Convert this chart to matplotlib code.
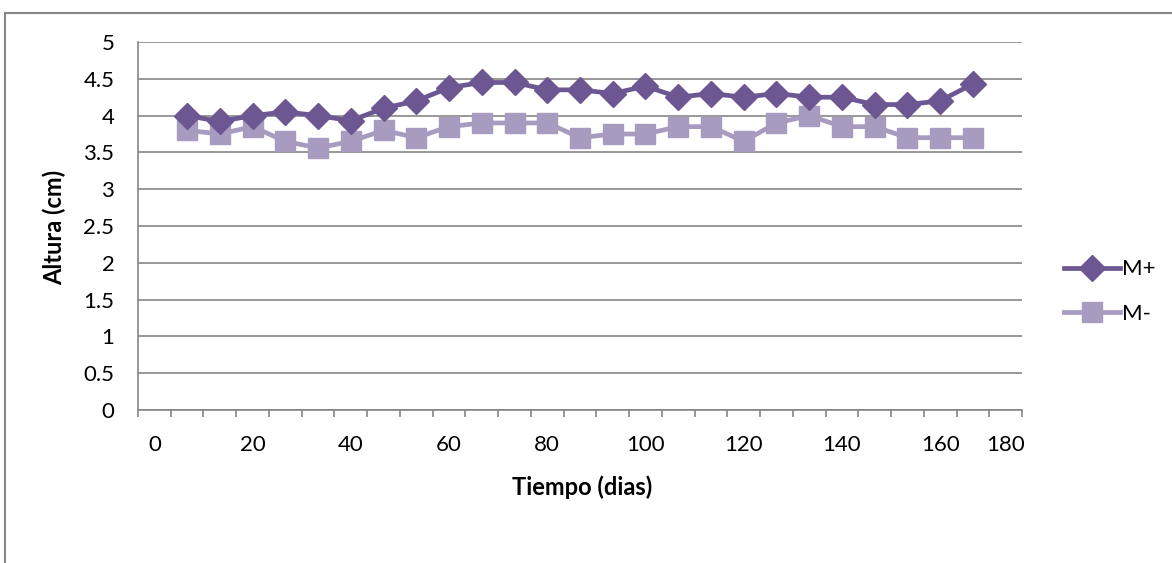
import numpy as np
import matplotlib.pyplot as plt
from matplotlib.lines import Line2D

# measurement days (one every week)
dias = [7, 14, 21, 28, 35, 42, 49, 56, 63, 70, 77, 84, 91,
        98, 105, 112, 119, 126, 133, 140, 147, 154, 161, 168, 175]
m_mas = [4.0, 3.92, 4.0, 4.05, 4.0, 3.93, 4.1, 4.2, 4.38, 4.45, 4.45, 4.35, 4.35,
         4.3, 4.4, 4.25, 4.3, 4.25, 4.3, 4.25, 4.25, 4.15, 4.15, 4.2, 4.43]
m_menos = [3.8, 3.75, 3.85, 3.65, 3.56, 3.65, 3.8, 3.7, 3.85, 3.9, 3.9, 3.9, 3.7,
           3.75, 3.75, 3.85, 3.85, 3.65, 3.9, 4.0, 3.85, 3.85, 3.7, 3.7, 3.7]
xlabels = ['0', '20', '40', '60', '80', '100', '120', '140', '160', '180']
xlabel_pos = [0, 21, 42, 63, 84, 105, 126, 147, 168, 182]

plt.rcParams['font.family'] = ['Lato', 'DejaVu Sans']
fig = plt.figure(figsize=(11.72, 5.63), dpi=100)
ax = fig.add_axes([138 / 1172, 1 - 410 / 563, 884 / 1172, 368 / 563])

c1 = '#6D5792'
c2 = '#A79BC0'
ax.plot(dias, m_mas, color=c1, lw=3.4, marker='D', ms=13, label='M+', zorder=4)
ax.plot(dias, m_menos, color=c2, lw=3.4, marker='s', ms=14, label='M-', zorder=3)

ax.set_xlim(-3.5, 185.5)
ax.set_ylim(0, 5)
ax.set_yticks(np.arange(0, 5.01, 0.5))
ax.set_yticklabels(['0', '0.5', '1', '1.5', '2', '2.5', '3', '3.5', '4', '4.5', '5'])
ax.yaxis.grid(True, color='#868686', lw=1.2)
ax.set_axisbelow(True)

ax.set_xticks(np.arange(-3.5, 186, 7))
ax.set_xticklabels([])
ax.set_xticks(xlabel_pos, minor=True)
ax.set_xticklabels(xlabels, minor=True)
ax.tick_params(axis='x', which='major', length=5, color='#868686', width=1.2)
ax.tick_params(axis='x', which='minor', length=0, pad=18, labelsize=16)
ax.tick_params(axis='y', length=0, pad=17, labelsize=16)

for s in ['top', 'right']:
    ax.spines[s].set_visible(False)
for s in ['left', 'bottom']:
    ax.spines[s].set_color('#868686')
    ax.spines[s].set_linewidth(1.2)

ax.set_xlabel('Tiempo (dias)', fontsize=17, fontweight='bold', va='center')
ax.xaxis.set_label_coords(0.502, -0.209)
ax.set_ylabel('Altura (cm)', fontsize=17, fontweight='bold', va='center')
ax.yaxis.set_label_coords(-0.094, 0.495)

ax.legend(loc='center left', bbox_to_anchor=(1.0475, 0.322), frameon=False,
          fontsize=16, handlelength=2.5, labelspacing=1.1, handletextpad=0.1,
          borderpad=0, borderaxespad=0)

# chart frame
fig.add_artist(Line2D([5 / 1172, 5 / 1172], [0, 1 - 13 / 563], color='#868686', lw=1.5))
fig.add_artist(Line2D([5 / 1172, 1], [1 - 13 / 563, 1 - 13 / 563], color='#868686', lw=1.5))

fig.savefig('out.png', dpi=100)
